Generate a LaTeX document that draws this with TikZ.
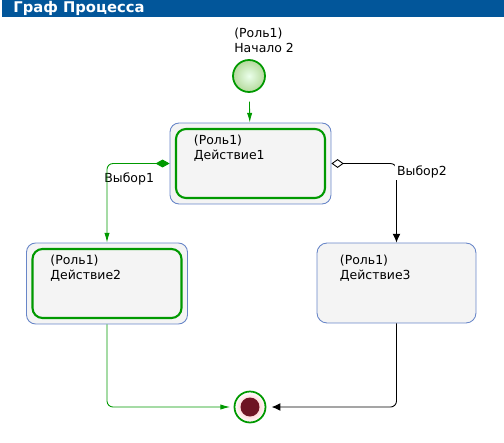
\documentclass[tikz,border=0pt]{standalone}
\usepackage{fontspec}
\setmainfont{DejaVu Sans}
\usepackage{tikz}
\definecolor{flowgreen}{RGB}{0,153,0}
\definecolor{boxblue}{RGB}{104,134,200}
\definecolor{titleblue}{RGB}{2,86,154}
\definecolor{boxgray}{RGB}{244,244,244}
\definecolor{enddark}{RGB}{110,20,35}
\definecolor{startgreen}{RGB}{181,217,156}
\usetikzlibrary{positioning,arrows.meta}

\begin{document}
\begin{tikzpicture}[x=0.02cm, y=-0.02cm,
	outerbox/.style={rectangle, draw=boxblue, line width=0.5pt, fill=boxgray, rounded corners=0.18cm, minimum width=3.22cm, minimum height=1.62cm},
	innerbox/.style={rectangle, draw=flowgreen, line width=1.2pt, fill=boxgray, rounded corners=0.2cm, minimum width=2.98cm, minimum height=1.38cm},
	plainbox/.style={rectangle, draw=boxblue, line width=0.5pt, fill=boxgray, rounded corners=0.2cm, minimum width=3.18cm, minimum height=1.6cm},
	txt/.style={font=\fontsize{7.1}{8.5}\selectfont, align=left, inner sep=0pt, anchor=north west},
	greenflow/.style={draw=flowgreen, line width=0.5pt, rounded corners=0.12cm, -{Latex[length=5.5pt,width=3pt]}},
	blackflow/.style={draw=black, line width=0.5pt, rounded corners=0.12cm, -{Latex[length=5pt,width=4.5pt]}}]
	\useasboundingbox (0,0) rectangle (504,443);
	% title bar
	\node[rectangle, fill=titleblue, minimum width=10.04cm, minimum height=0.34cm, inner sep=0pt, anchor=north west] (bar) at (2,0) {};
	\node[anchor=west, text=white, font=\fontsize{8.4}{9}\selectfont\bfseries, inner sep=0pt] (title) at (13,8.5) {Граф Процесса};
	% start and end
	\node[circle, draw=flowgreen, line width=1pt, inner color=green!8!white, outer color=startgreen, minimum size=0.64cm, inner sep=0pt] (start) at (249,76) {};
	\node[txt] (startlbl) at (234,28) {(Роль1)\\Начало 2};
	\node[circle, draw=flowgreen, line width=1pt, inner color=red!35!white, outer color=white, minimum size=0.62cm, inner sep=0pt] (finish) at (250,407) {};
	\node[circle, fill=enddark, minimum size=0.38cm, inner sep=0pt] (finishdot) at (finish) {};
	% actions
	\node[outerbox] (act1) at (250.5,163.5) {};
	\node[innerbox] (act1in) at (act1) {};
	\node[txt] (act1lbl) at ([shift={(24,12)}]act1.north west) {(Роль1)\\Действие1};
	\node[outerbox] (act2) at (107,283.5) {};
	\node[innerbox] (act2in) at (act2) {};
	\node[txt] (act2lbl) at ([shift={(24,12)}]act2.north west) {(Роль1)\\Действие2};
	\node[plainbox] (act3) at (396.5,283) {};
	\node[txt] (act3lbl) at ([shift={(23,12)}]act3.north west) {(Роль1)\\Действие3};
	% flows
	\draw[greenflow, shorten <=5pt] (start) -- (act1);
	\node[txt, anchor=west] (ch1) at (104,179) {Выбор1};
	\draw[greenflow, {Diamond[fill=flowgreen, length=8pt, width=4.5pt]}-{Latex[length=5.5pt,width=3pt]}] (act1.west) -| (act2.north);
	\draw[blackflow, {Diamond[open, length=7pt, width=5pt]}-{Latex[length=5pt,width=4.5pt]}] (act1.east) -| (act3.north);
	\node[txt, anchor=west, fill=white, inner sep=1pt] (ch2) at (395,172) {Выбор2};
	\draw[greenflow, shorten >=2pt] (act2.south) |- (finish.west);
	\draw[blackflow, shorten >=3pt] (act3.south) |- (finish.east);
\end{tikzpicture}
\end{document}
